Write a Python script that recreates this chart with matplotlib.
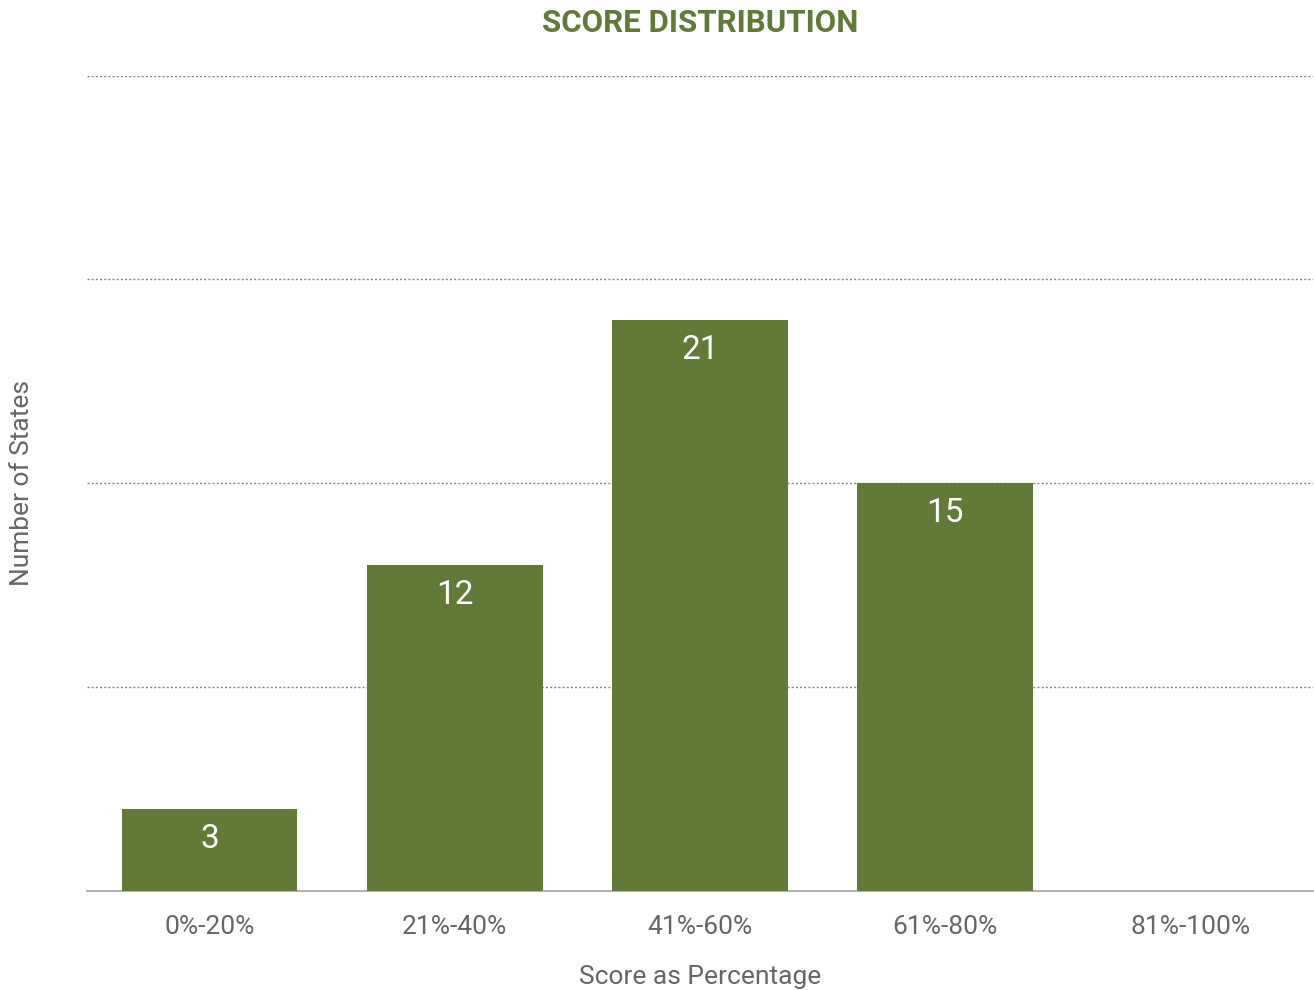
import matplotlib.pyplot as plt

categories = ['0%-20%', '21%-40%', '41%-60%', '61%-80%', '81%-100%']
counts = [3, 12, 21, 15, 0]
grid_levels = [7.5, 15, 22.5, 30]

green = '#627a38'
grey = '#666666'

plt.rcParams['font.family'] = ['Roboto', 'DejaVu Sans']

fig = plt.figure(figsize=(13.14, 9.9), dpi=100)
ax = fig.add_axes([0.0662, 0.1, 0.933, 0.8237])

x = range(len(categories))
bars = ax.bar(x, counts, width=0.717, color=green, zorder=3)

# value labels just inside the top of each bar
for rect, v in zip(bars, counts):
    if v == 0:
        continue
    ax.annotate(str(v), (rect.get_x() + rect.get_width() / 2, v),
                xytext=(0, -21.5), textcoords='offset points',
                ha='center', va='center', color='white', fontsize=24, zorder=4)

ax.set_xlim(-0.5, 4.5)
ax.set_ylim(0, 30)
ax.set_yticks(grid_levels)
ax.set_yticklabels([])
ax.tick_params(axis='y', length=0)
ax.yaxis.grid(True, linestyle=(0, (1.5, 1.5)), color='#888888', linewidth=1, zorder=0)

ax.set_xticks(list(x))
ax.set_xticklabels(categories, fontsize=19, color=grey)
ax.tick_params(axis='x', length=0, pad=17)

for side in ['top', 'right', 'left']:
    ax.spines[side].set_visible(False)
ax.spines['bottom'].set_color('#aaaaaa')
ax.spines['bottom'].set_linewidth(1.3)

ax.set_xlabel('Score as Percentage', fontsize=19, color=grey, labelpad=19)
fig.text(0.017, 0.512, 'Number of States', rotation=90, ha='center', va='center',
         fontsize=19, color=grey)
fig.text(0.533, 0.977, 'SCORE DISTRIBUTION', ha='center', va='center',
         fontsize=22.5, fontweight='bold', color=green)

fig.savefig('out.png', dpi=100)
